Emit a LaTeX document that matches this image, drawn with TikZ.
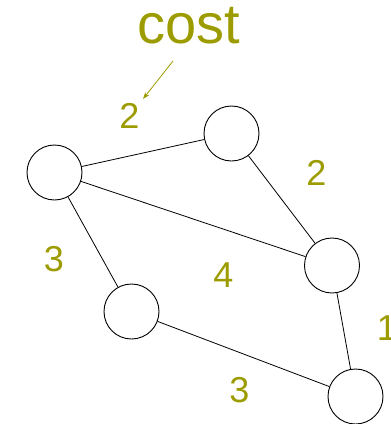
\documentclass[tikz,border=0pt]{standalone}
\usepackage{fontspec}
\setmainfont{Liberation Sans}
\usetikzlibrary{arrows.meta}
\definecolor{olive}{HTML}{9C9C00}
\tikzset{
  vtx/.style={circle, draw=black, line width=0.9pt, minimum size=55pt, inner sep=0pt},
  edge/.style={draw=black, line width=0.8pt},
  lbl/.style={text=olive, inner sep=0pt, anchor=base, font=\fontsize{36}{40}\selectfont},
  bigl/.style={text=olive, inner sep=0pt, anchor=base, font=\fontsize{56}{60}\selectfont}
}
\begin{document}
\begin{tikzpicture}[x=1pt, y=-1pt]
\useasboundingbox (0,0) rectangle (391,424);
\clip (0,0) rectangle (391,424);
\node[vtx] (A) at (54.5,172.5) {};
\node[vtx] (B) at (231.5,133.5) {};
\node[vtx] (C) at (332,265.5) {};
\node[vtx] (D) at (131.5,311.5) {};
\node[vtx] (E) at (355.5,396.5) {};
\draw[edge] (A) -- (B);
\draw[edge] (A) -- (C);
\draw[edge] (A) -- (D);
\draw[edge] (B) -- (C);
\draw[edge] (C) -- (E);
\draw[edge] (D) -- (E);
\node[bigl] (cost) at (189,43) {cost};
\node[lbl] (l1) at (129.5,128) {2};
\node[lbl] (l2) at (316.5,185) {2};
\node[lbl] (l3) at (54,271) {3};
\node[lbl] (l4) at (223.5,287) {4};
\node[lbl] (l5) at (387,340) {1};
\node[lbl] (l6) at (239.5,402) {3};
\coordinate (as) at (173,61);
\coordinate (ae) at (143,99);
\draw[olive, line width=0.8pt, -{Stealth[length=7pt,width=5pt]}] (as) -- (ae);
\end{tikzpicture}
\end{document}
